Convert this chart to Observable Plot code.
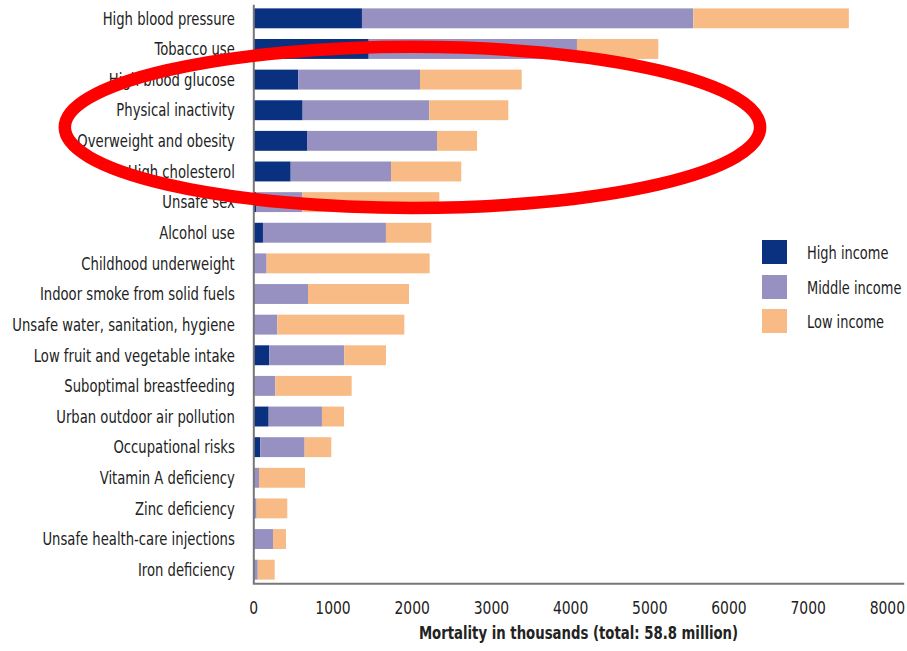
<!DOCTYPE html>
<html>
<head>
<meta charset="utf-8">
<script src="https://cdn.jsdelivr.net/npm/d3@7"></script>
<script src="https://cdn.jsdelivr.net/npm/@observablehq/plot@0.6"></script>
<style>
  html, body { margin: 0; padding: 0; background: #fff; }
  #wrap { position: relative; width: 907px; height: 651px; font-family: "DejaVu Sans Condensed", "DejaVu Sans", sans-serif; color: #222; }
  #legend { position: absolute; left: 762px; top: 240px; }
  .lg-row { position: relative; height: 34.5px; }
  .lg-sw { position: absolute; left: 0; top: 0; width: 25px; height: 24px; }
  .lg-tx { position: absolute; left: 45px; top: 12px; transform-origin: left center; transform: translateY(-50%) scaleX(0.8); font-size: 18px; white-space: nowrap; }
</style>
</head>
<body>
<div id="wrap"><div id="legend"></div></div>
<script>
const categories = [
  "High blood pressure", "Tobacco use", "High blood glucose", "Physical inactivity",
  "Overweight and obesity", "High cholesterol", "Unsafe sex", "Alcohol use",
  "Childhood underweight", "Indoor smoke from solid fuels", "Unsafe water, sanitation, hygiene",
  "Low fruit and vegetable intake", "Suboptimal breastfeeding", "Urban outdoor air pollution",
  "Occupational risks", "Vitamin A deficiency", "Zinc deficiency",
  "Unsafe health-care injections", "Iron deficiency"
];
const highIncome   = [1372, 1457, 568, 623, 678, 472, 34, 122, 0, 0, 0, 202, 0, 194, 88, 0, 0, 0, 0];
const middleIncome = [4184, 2630, 1537, 1599, 1642, 1267, 585, 1553, 168, 691, 303, 947, 278, 673, 560, 72, 42, 249, 56];
const lowIncome    = [1964, 1027, 1284, 998, 505, 887, 1730, 573, 2059, 1275, 1604, 526, 964, 278, 337, 581, 387, 164, 214];
const seriesNames  = ["High income", "Middle income", "Low income"];
const seriesColors = ["#0a3080", "#9691c1", "#f8bb86"];
const xTicks = [0, 1000, 2000, 3000, 4000, 5000, 6000, 7000, 8000];
const xLabel = "Mortality in thousands (total: 58.8 million)";
// annotation ellipse (data units on x, around the highlighted rows)
const ellipseCenterValue = 2010;
const ellipseHalfWidthValue = 4390;

const seriesValues = [highIncome, middleIncome, lowIncome];
const rows = [];
categories.forEach((c, i) => {
  seriesNames.forEach((s, j) => rows.push({risk: c, income: s, value: seriesValues[j][i]}));
});

const font = '"DejaVu Sans Condensed", "DejaVu Sans", sans-serif';

const plot = Plot.plot({
  width: 907,
  height: 651,
  marginLeft: 253.3,
  marginRight: 4.3,
  marginTop: 4.7,
  marginBottom: 67.7,
  style: {fontFamily: font, color: "#222", background: "#fff"},
  x: {domain: [0, 8200], ticks: xTicks, label: null},
  y: {domain: categories, paddingInner: 0.35, paddingOuter: 0.12, round: false, label: null},
  color: {domain: seriesNames, range: seriesColors},
  marks: [
    Plot.barX(rows, Plot.stackX({y: "risk", x: "value", fill: "income"})),
    Plot.ruleX([0], {stroke: "#777", strokeWidth: 2}),
    Plot.frame({anchor: "bottom", stroke: "#777", strokeWidth: 2}),
    Plot.axisX({ticks: xTicks, tickSize: 0, tickPadding: 18, fontSize: 17, tickFormat: d => String(d), label: null, className: "xax"}),
    Plot.axisY({tickSize: 0, tickPadding: 19, fontSize: 18, label: null, className: "yax"}),
    Plot.text([xLabel], {frameAnchor: "bottom", dy: 55, fontSize: 18, fontWeight: "bold", fill: "#222", className: "xtitle"})
  ]
});

document.getElementById("wrap").prepend(plot);

// condense the text horizontally (the reference uses a condensed face)
function squeeze(sel, k) {
  d3.select(plot).selectAll(sel).each(function() {
    const t = this.getAttribute("transform") || "";
    this.setAttribute("transform", (t + ` scale(${k},1)`).trim());
    const x = this.getAttribute("x");
    if (x != null && x !== "") this.setAttribute("x", +x / k);
  });
}
squeeze(".yax text", 0.815);
squeeze(".xax text", 0.91);
squeeze(".xtitle text", 0.82);

// annotation ellipse positioned with the chart's own scales
const xs = plot.scale("x"), ys = plot.scale("y");
const step = ys.apply(categories[1]) - ys.apply(categories[0]);
const bw = ys.bandwidth != null ? ys.bandwidth : step * 0.65;
const cx = xs.apply(ellipseCenterValue);
const rx = xs.apply(ellipseCenterValue + ellipseHalfWidthValue) - cx;
const cy = ys.apply("Physical inactivity") + bw / 2 + 0.56 * step;
const ry = 2.63 * step;
d3.select(plot).append("ellipse")
  .attr("cx", cx).attr("cy", cy).attr("rx", rx).attr("ry", ry)
  .attr("fill", "none").attr("stroke", "#ff0000").attr("stroke-width", 12.5);

// legend
const lg = document.getElementById("legend");
seriesNames.forEach((s, i) => {
  const r = document.createElement("div"); r.className = "lg-row";
  const sw = document.createElement("div"); sw.className = "lg-sw"; sw.style.background = seriesColors[i];
  const tx = document.createElement("div"); tx.className = "lg-tx"; tx.textContent = s;
  r.appendChild(sw); r.appendChild(tx); lg.appendChild(r);
});
</script>
</body>
</html>
